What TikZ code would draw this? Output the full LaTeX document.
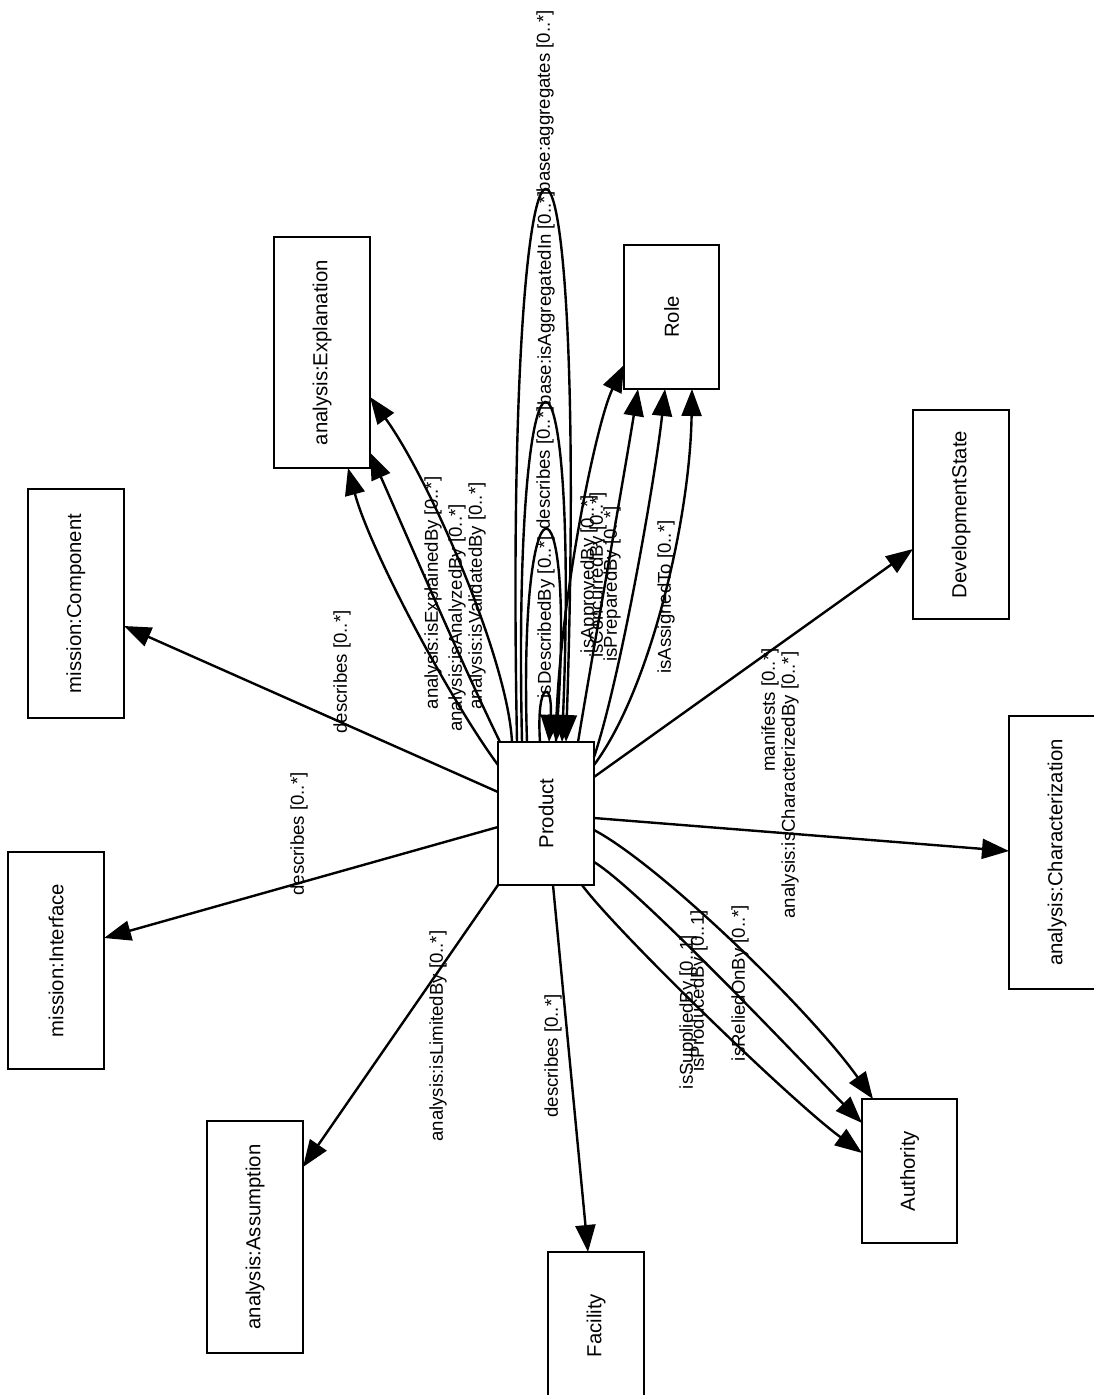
\documentclass[tikz,border=0pt]{standalone}
\usepackage{fontspec}
\setmainfont{Liberation Sans}
\usepackage{graphicx}
\usetikzlibrary{arrows.meta}
\begin{document}
\begin{tikzpicture}[x=1pt,y=-1pt,
  box/.style={draw, line width=2.8pt, inner sep=0pt, outer sep=0pt, font=\fontsize{20.3}{24}\selectfont},
  edge/.style={line width=2.4pt, -{Triangle[length=27pt,width=20pt]}},
  lab/.style={inner sep=0pt, rotate=90, font=\fontsize{18.6}{22}\selectfont}]
\useasboundingbox (0,0) rectangle (1094,1395);
\clip (0,0) rectangle (1094,1395);

% nodes
\node[box, minimum width=96pt, minimum height=143pt] (prod) at (546,813.5) {\rotatebox{90}{Product}};
\node[box, minimum width=96pt, minimum height=231pt] (expl) at (322,352.5) {\rotatebox{90}{analysis:Explanation}};
\node[box, minimum width=95pt, minimum height=144pt] (role) at (671.5,317) {\rotatebox{90}{Role}};
\node[box, minimum width=96pt, minimum height=229pt] (comp) at (76,603.5) {\rotatebox{90}{mission:Component}};
\node[box, minimum width=96pt, minimum height=209pt] (dev) at (961,514.5) {\rotatebox{90}{DevelopmentState}};
\node[box, minimum width=96pt, minimum height=217pt] (iface) at (56,960.5) {\rotatebox{90}{mission:Interface}};
\node[box, minimum width=96pt, minimum height=273pt] (char) at (1057,852.5) {\rotatebox{90}{analysis:Characterization}};
\node[box, minimum width=96pt, minimum height=232pt] (assum) at (255,1237) {\rotatebox{90}{analysis:Assumption}};
\node[box, minimum width=96pt, minimum height=147pt] (fac) at (596,1325.5) {\rotatebox{90}{Facility}};
\node[box, minimum width=95pt, minimum height=144pt] (auth) at (909.5,1171) {\rotatebox{90}{Authority}};

% edges to mission nodes
\draw[edge] ([yshift=21.5pt]prod.west) -- ([yshift=-22.5pt]comp.east);
\draw[edge] ([yshift=-13.5pt]prod.west) -- ([yshift=22.5pt]iface.east);

% edges to Explanation
\draw[edge] ([yshift=48.5pt]prod.west) .. controls (450,700) and (370,550) .. ([xshift=26pt]expl.south);
\draw[edge] ([xshift=-46pt]prod.north) .. controls (460,660) and (400,520) .. ([yshift=-100pt]expl.east);
\draw[edge] ([xshift=-34pt]prod.north) .. controls (508,660) and (430,480) .. ([yshift=-44.5pt]expl.east);

% self loops
\draw[edge] ([xshift=-6pt]prod.north) .. controls (536,680) and (553,680) .. ([xshift=3pt]prod.north);
\draw[edge] ([xshift=-19pt]prod.north) .. controls (518,462) and (575,462) .. ([xshift=10pt]prod.north);
\draw[edge] ([xshift=-24pt]prod.north) .. controls (512,293) and (580,293) .. ([xshift=16pt]prod.north);
\draw[edge] ([xshift=-29pt]prod.north) .. controls (503,9) and (590,9) .. ([xshift=20pt]prod.north);

% edges to Role
\draw[edge] ([xshift=10pt]prod.north) .. controls (556,620) and (595,425) .. ([yshift=-48pt]role.west);
\draw[edge] ([xshift=32pt]prod.north) .. controls (595,640) and (625,470) .. ([xshift=-33.5pt]role.south);
\draw[edge] ([yshift=56.5pt]prod.east) .. controls (620,680) and (655,480) .. ([xshift=-6.5pt]role.south);
\draw[edge] ([yshift=48.5pt]prod.east) .. controls (650,690) and (690,520) .. ([xshift=20.5pt]role.south);

% right side
\draw[edge] ([yshift=36.5pt]prod.east) -- ([yshift=-34.5pt]dev.west);
\draw[edge] ([yshift=-4.5pt]prod.east) -- ([yshift=1.5pt]char.west);

% Authority
\draw[edge] ([yshift=-16.5pt]prod.east) .. controls (660,865) and (810,1010) .. ([xshift=-36.5pt]auth.north);
\draw[edge] ([yshift=-48.5pt]prod.east) .. controls (640,890) and (800,1060) .. ([yshift=48pt]auth.west);
\draw[edge] ([xshift=36pt]prod.south) .. controls (615,930) and (790,1100) .. ([yshift=18pt]auth.west);

% bottom
\draw[edge] (prod.south west) -- ([yshift=70pt]assum.east);
\draw[edge] ([xshift=7pt]prod.south) -- ([xshift=-8pt]fac.north);

% labels
\node[lab] (l1) at (342,672) {describes [0..*]};
\node[lab] (l2) at (299,834) {describes [0..*]};
\node[lab] (l3) at (433,593) {analysis:isExplainedBy [0..*]};
\node[lab] (l4) at (457,618) {analysis:isAnalyzedBy [0..*]};
\node[lab] (l5) at (477,596) {analysis:isValidatedBy [0..*]};
\node[lab] (l6) at (546,617) {isDescribedBy [0..*]};
\node[lab] (l7) at (545,468) {describes [0..*]};
\node[lab] (l8) at (546,298) {base:isAggregatedIn [0..*]};
\node[lab] (l9) at (545,101) {base:aggregates [0..*]};
\node[lab] (l10) at (589,574) {isApprovedBy [0..*]};
\node[lab] (l11) at (598,575) {isConcurredBy [0..*]};
\node[lab] (l12) at (612,584) {isPreparedBy [0..*]};
\node[lab] (l13) at (666,597) {isAssignedTo [0..*]};
\node[lab] (l14) at (770,710) {manifests [0..*]};
\node[lab] (l15) at (790,785) {analysis:isCharacterizedBy [0..*]};
\node[lab] (l16) at (688,1012) {isSuppliedBy [0..1]};
\node[lab] (l17) at (699,991) {isProducedBy [0..1]};
\node[lab] (l18) at (740,983) {isReliedOnBy [0..*]};
\node[lab] (l19) at (438,1036) {analysis:isLimitedBy [0..*]};
\node[lab] (l20) at (553,1056) {describes [0..*]};
\end{tikzpicture}
\end{document}
